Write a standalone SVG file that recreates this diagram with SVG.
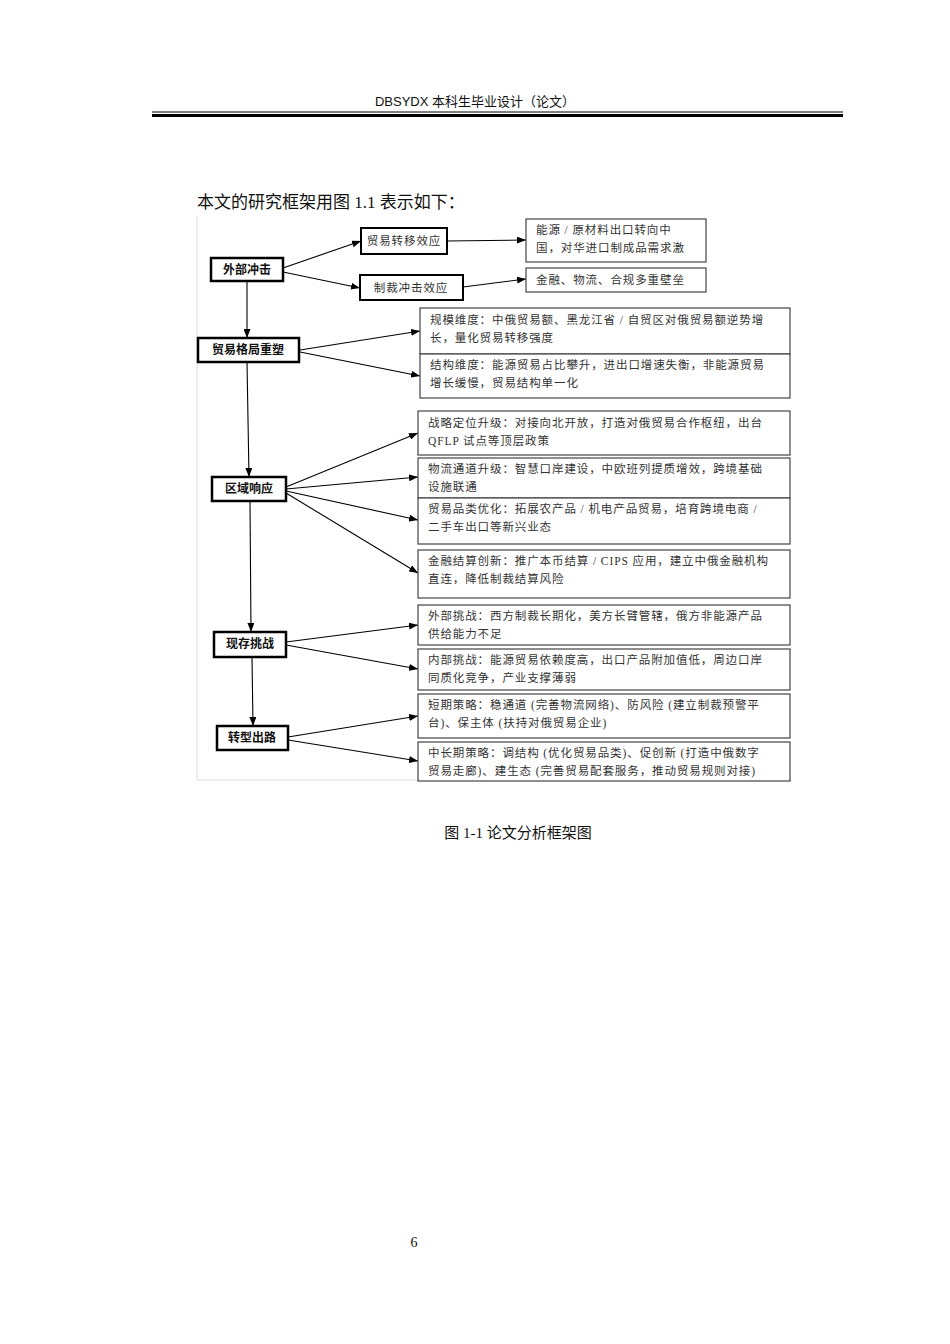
<svg xmlns="http://www.w3.org/2000/svg" width="950" height="1344" viewBox="0 0 950 1344">
<style>
text{font-family:"Liberation Serif","Noto Sans CJK SC",serif;fill:#111}
.t{font-size:11.5px;fill:#333;letter-spacing:0.9px}
.b{font-size:12px;font-weight:bold}
.k{fill:#fff;stroke:#000;stroke-width:2.5}
.m{fill:#fff;stroke:#000;stroke-width:2}
.r{fill:#fff;stroke:#444;stroke-width:1.2}
#c line{stroke:#000;stroke-width:1.1;marker-end:url(#a)}
</style>
<defs><marker id="a" markerWidth="9" markerHeight="7" refX="9" refY="3.5" orient="auto" markerUnits="userSpaceOnUse"><path d="M0,0L9,3.5L0,7z" fill="#000"/></marker></defs>
<rect width="950" height="1344" fill="#fff"/>
<text x="475" y="106" text-anchor="middle" style="font-size:13px;font-family:'Liberation Sans','Noto Sans CJK SC',sans-serif">DBSYDX 本科生毕业设计（论文）</text>
<line x1="152" y1="112" x2="843" y2="112" stroke="#000" stroke-width="1"/>
<line x1="152" y1="115.5" x2="843" y2="115.5" stroke="#000" stroke-width="3"/>
<text x="197" y="208" style="font-size:17px">本文的研究框架用图 1.1 表示如下：</text>
<path d="M197,216V780H792" fill="none" stroke="#ddd" stroke-width="1"/>
<g id="c">
<line x1="283" y1="268" x2="361" y2="241"/><line x1="283" y1="272" x2="360" y2="288"/>
<line x1="447" y1="241" x2="526" y2="240"/><line x1="463" y1="287" x2="526" y2="279"/>
<line x1="247" y1="281" x2="247" y2="338"/>
<line x1="300" y1="350" x2="420" y2="331"/><line x1="300" y1="352" x2="420" y2="376"/>
<line x1="247" y1="362" x2="249" y2="477"/>
<line x1="286" y1="487" x2="418" y2="433"/><line x1="286" y1="489" x2="418" y2="477"/>
<line x1="286" y1="491" x2="418" y2="520"/><line x1="286" y1="493" x2="418" y2="573"/>
<line x1="250" y1="501" x2="251" y2="632"/>
<line x1="286" y1="642" x2="418" y2="625"/><line x1="286" y1="645" x2="418" y2="669"/>
<line x1="252" y1="657" x2="253" y2="726"/>
<line x1="288" y1="737" x2="418" y2="716"/><line x1="288" y1="740" x2="418" y2="761"/>
</g>
<g id="n1"><rect class="k" x="211" y="258" width="72" height="23"/><text class="b" x="247" y="274" text-anchor="middle">外部冲击</text></g>
<g id="n2"><rect class="m" x="361" y="228" width="86" height="26"/><text class="t" x="404" y="245" text-anchor="middle">贸易转移效应</text></g>
<g id="n3"><rect class="m" x="360" y="275" width="103" height="25"/><text class="t" x="411" y="292" text-anchor="middle">制裁冲击效应</text></g>
<g id="n4"><rect class="r" x="526" y="219" width="180" height="43"/><text class="t" x="536" y="234">能源 / 原材料出口转向中</text><text class="t" x="536" y="252">国，对华进口制成品需求激</text></g>
<g id="n5"><rect class="r" x="526" y="268" width="180" height="24"/><text class="t" x="536" y="284">金融、物流、合规多重壁垒</text></g>
<g id="n6"><rect class="k" x="198" y="338" width="101" height="24"/><text class="b" x="248" y="354" text-anchor="middle">贸易格局重塑</text></g>
<g id="n7"><rect class="r" x="420" y="308" width="370" height="46"/><text class="t" x="430" y="324">规模维度：中俄贸易额、黑龙江省 / 自贸区对俄贸易额逆势增</text><text class="t" x="430" y="342">长，量化贸易转移强度</text></g>
<g id="n8"><rect class="r" x="420" y="354" width="370" height="44"/><text class="t" x="430" y="369">结构维度：能源贸易占比攀升，进出口增速失衡，非能源贸易</text><text class="t" x="430" y="387">增长缓慢，贸易结构单一化</text></g>
<g id="n9"><rect class="k" x="212" y="477" width="74" height="24"/><text class="b" x="249" y="493" text-anchor="middle">区域响应</text></g>
<g id="n10"><rect class="r" x="418" y="411" width="372" height="44"/><text class="t" x="428" y="427">战略定位升级：对接向北开放，打造对俄贸易合作枢纽，出台</text><text class="t" x="428" y="445">QFLP 试点等顶层政策</text></g>
<g id="n11"><rect class="r" x="418" y="458" width="372" height="40"/><text class="t" x="428" y="473">物流通道升级：智慧口岸建设，中欧班列提质增效，跨境基础</text><text class="t" x="428" y="491">设施联通</text></g>
<g id="n12"><rect class="r" x="418" y="498" width="372" height="46"/><text class="t" x="428" y="513">贸易品类优化：拓展农产品 / 机电产品贸易，培育跨境电商 /</text><text class="t" x="428" y="531">二手车出口等新兴业态</text></g>
<g id="n13"><rect class="r" x="418" y="550" width="372" height="48"/><text class="t" x="428" y="565">金融结算创新：推广本币结算 / CIPS 应用，建立中俄金融机构</text><text class="t" x="428" y="583">直连，降低制裁结算风险</text></g>
<g id="n14"><rect class="k" x="214" y="632" width="72" height="25"/><text class="b" x="250" y="648" text-anchor="middle">现存挑战</text></g>
<g id="n15"><rect class="r" x="418" y="605" width="372" height="40"/><text class="t" x="428" y="620">外部挑战：西方制裁长期化，美方长臂管辖，俄方非能源产品</text><text class="t" x="428" y="638">供给能力不足</text></g>
<g id="n16"><rect class="r" x="418" y="649" width="372" height="41"/><text class="t" x="428" y="664">内部挑战：能源贸易依赖度高，出口产品附加值低，周边口岸</text><text class="t" x="428" y="682">同质化竞争，产业支撑薄弱</text></g>
<g id="n17"><rect class="k" x="217" y="726" width="71" height="24"/><text class="b" x="252" y="742" text-anchor="middle">转型出路</text></g>
<g id="n18"><rect class="r" x="418" y="694" width="372" height="44"/><text class="t" x="428" y="709">短期策略：稳通道 (完善物流网络)、防风险 (建立制裁预警平</text><text class="t" x="428" y="727">台)、保主体 (扶持对俄贸易企业)</text></g>
<g id="n19"><rect class="r" x="418" y="742" width="372" height="39"/><text class="t" x="428" y="757">中长期策略：调结构 (优化贸易品类)、促创新 (打造中俄数字</text><text class="t" x="428" y="775">贸易走廊)、建生态 (完善贸易配套服务，推动贸易规则对接)</text></g>
<text x="518" y="838" text-anchor="middle" style="font-size:15px">图  1-1  论文分析框架图</text>
<text x="414" y="1247" text-anchor="middle" style="font-size:14px">6</text>
</svg>
